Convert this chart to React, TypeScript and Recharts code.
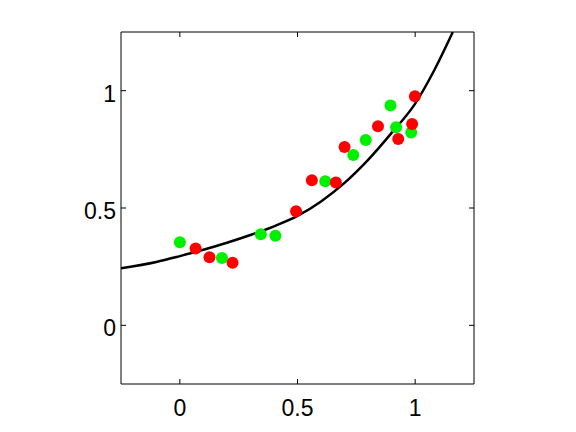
import React from 'react';
import { ComposedChart, Line, Scatter, XAxis, YAxis, ReferenceArea } from 'recharts';

const TICKS = [0, 0.5, 1];
const DOMAIN: [number, number] = [-0.25, 1.25];

const greenX = [0.0, 0.179, 0.344, 0.406, 0.618, 0.737, 0.79, 0.895, 0.919, 0.983];
const greenY = [0.354, 0.287, 0.388, 0.382, 0.614, 0.726, 0.79, 0.937, 0.844, 0.822];

const redX = [0.067, 0.126, 0.224, 0.494, 0.561, 0.663, 0.7, 0.842, 0.928, 0.987, 0.999];
const redY = [0.327, 0.29, 0.267, 0.486, 0.618, 0.609, 0.76, 0.848, 0.794, 0.858, 0.976];

const curveX = [-0.25, -0.1, 0, 0.1, 0.2, 0.3, 0.4, 0.5, 0.6, 0.7, 0.8, 0.9, 1.0, 1.08, 1.16];
const curveY = [0.243, 0.27, 0.295, 0.322, 0.352, 0.385, 0.422, 0.466, 0.528, 0.607, 0.705, 0.82, 0.945, 1.085, 1.25];

const green = greenX.map((x, i) => ({ x, y: greenY[i] }));
const red = redX.map((x, i) => ({ x, y: redY[i] }));
const curve = curveX.map((x, i) => ({ x, y: curveY[i] }));

// plot box (matches margins below)
const TOP = 32;
const BOTTOM = 384;
const LEFT = 121;
const RIGHT = 474;
const TICK_LEN = 5;
const FONT = '"Liberation Sans", Arial, Helvetica, sans-serif';

const XTick = (props: any) => {
  const { x, payload } = props;
  return (
    <g>
      <line x1={x} x2={x} y1={BOTTOM} y2={BOTTOM - TICK_LEN} stroke="#000" />
      <line x1={x} x2={x} y1={TOP} y2={TOP + TICK_LEN} stroke="#000" />
      <text x={x} y={BOTTOM + 32} textAnchor="middle" fontSize={23} fontFamily={FONT} fill="#000">
        {String(payload.value)}
      </text>
    </g>
  );
};

const YTick = (props: any) => {
  const { y, payload } = props;
  return (
    <g>
      <line x1={LEFT} x2={LEFT + TICK_LEN} y1={y} y2={y} stroke="#000" />
      <line x1={RIGHT} x2={RIGHT - TICK_LEN} y1={y} y2={y} stroke="#000" />
      <text x={LEFT - 5} y={y + 11} textAnchor="end" fontSize={23} fontFamily={FONT} fill="#000">
        {String(payload.value)}
      </text>
    </g>
  );
};

export default function App() {
  return (
    <div style={{ position: 'absolute', left: 0, top: 0, background: '#fff' }}>
      <ComposedChart width={576} height={432} margin={{ top: TOP, right: 576 - RIGHT, bottom: 0, left: 0 }}>
        <XAxis
          dataKey="x"
          type="number"
          domain={DOMAIN}
          ticks={TICKS}
          allowDataOverflow
          height={432 - BOTTOM}
          axisLine={false}
          tickLine={false}
          tickSize={0}
          tickMargin={0}
          tick={<XTick />}
        />
        <YAxis
          dataKey="y"
          type="number"
          domain={DOMAIN}
          ticks={TICKS}
          allowDataOverflow
          width={LEFT}
          axisLine={false}
          tickLine={false}
          tickSize={0}
          tickMargin={0}
          tick={<YTick />}
        />
        <ReferenceArea
          x1={DOMAIN[0]}
          x2={DOMAIN[1]}
          y1={DOMAIN[0]}
          y2={DOMAIN[1]}
          fill="none"
          fillOpacity={0}
          stroke="#000"
          strokeWidth={1}
        />
        <Line
          data={curve}
          dataKey="y"
          type="monotone"
          stroke="#000"
          strokeWidth={2.5}
          dot={false}
          isAnimationActive={false}
        />
        <Scatter data={green} dataKey="y" shape={(p: any) => <circle cx={p.cx} cy={p.cy} r={6} fill="#00f000" />} isAnimationActive={false} />
        <Scatter data={red} dataKey="y" shape={(p: any) => <circle cx={p.cx} cy={p.cy} r={6} fill="#ff0000" />} isAnimationActive={false} />
      </ComposedChart>
    </div>
  );
}
